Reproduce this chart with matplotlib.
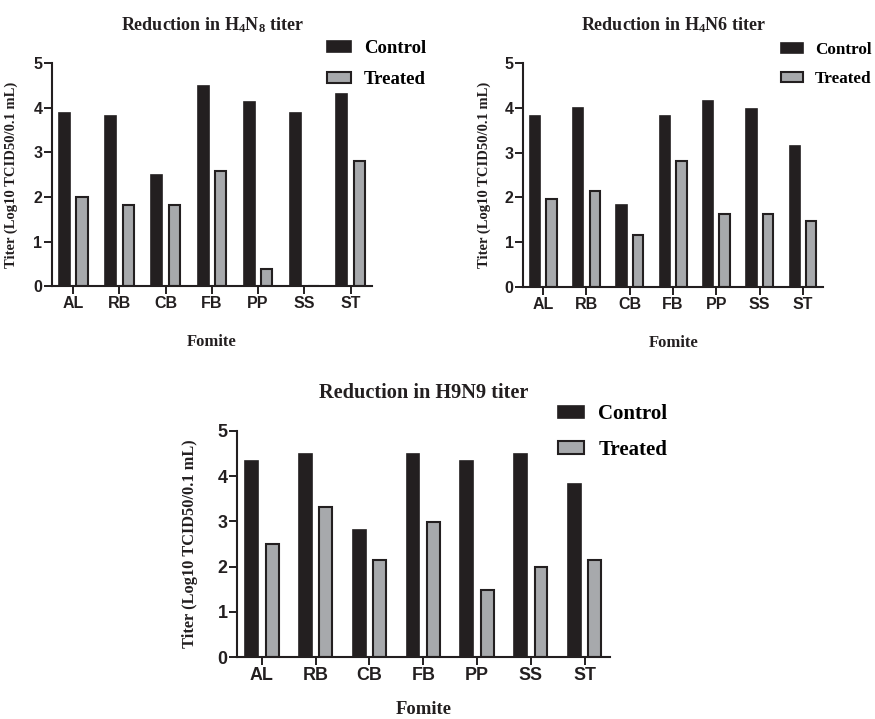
import numpy as np
import matplotlib
matplotlib.use('Agg')
from matplotlib import pyplot as plt

plt.rcParams['mathtext.fontset'] = 'custom'
plt.rcParams['mathtext.rm'] = 'Liberation Serif:bold'
plt.rcParams['mathtext.it'] = 'Liberation Serif:bold:italic'
plt.rcParams['mathtext.bf'] = 'Liberation Serif:bold'
plt.rcParams['mathtext.default'] = 'rm'

fomites = ['AL', 'RB', 'CB', 'FB', 'PP', 'SS', 'ST']

h4n8_control = [3.88, 3.82, 2.5, 4.5, 4.14, 3.88, 4.31]
h4n8_treated = [2.0, 1.81, 1.81, 2.59, 0.38, 0.0, 2.81]

h4n6_control = [3.81, 4.0, 1.82, 3.81, 4.15, 3.98, 3.14]
h4n6_treated = [1.97, 2.14, 1.15, 2.81, 1.64, 1.64, 1.48]

h9n9_control = [4.33, 4.49, 2.81, 4.49, 4.33, 4.49, 3.82]
h9n9_treated = [2.49, 3.32, 2.14, 2.98, 1.48, 1.99, 2.14]

control_color = '#231f20'
treated_color = '#a7a9ac'
serif = 'Liberation Serif'
sans = 'Liberation Sans'


def titer_panel(fig, rect, title, control, treated, scale=1.0, xlabel_y=-0.215,
                legend_size=13.5):
    ax = fig.add_axes(rect)
    x = np.arange(len(fomites))
    width = 0.24
    offset = 0.19
    ax.bar(x - offset, control, width=width, color=control_color,
           edgecolor=control_color, linewidth=1.2, label='Control')
    ax.bar(x + offset, treated, width=width, color=treated_color,
           edgecolor=control_color, linewidth=1.5, label='Treated')

    ax.set_xlim(-0.46, 6.47)
    ax.set_ylim(0, 5)
    ax.set_yticks(range(6))
    ax.set_xticks(x)
    ax.set_xticklabels(fomites)

    for side in ['top', 'right']:
        ax.spines[side].set_visible(False)
    for side in ['left', 'bottom']:
        ax.spines[side].set_linewidth(1.5)
        ax.spines[side].set_color(control_color)

    ax.tick_params(axis='both', direction='out', length=5.5, width=1.4,
                   color=control_color, pad=1.5)
    for lbl in ax.get_xticklabels() + ax.get_yticklabels():
        lbl.set_fontfamily(sans)
        lbl.set_fontweight('bold')
        lbl.set_fontsize(11.5 * scale)
        lbl.set_color(control_color)

    ax.set_ylabel('Titer (Log10 TCID50/0.1 mL)', fontfamily=serif,
                  fontweight='bold', fontsize=10.5 * scale, color=control_color)
    ax.yaxis.set_label_coords(-0.106, 0.5)
    ax.set_xlabel('Fomite', fontfamily=serif, fontweight='bold',
                  fontsize=12 * scale, color=control_color)
    ax.xaxis.set_label_coords(0.5, xlabel_y)

    ax.text(0.5, 1.17, title, transform=ax.transAxes, ha='center', va='center',
            fontfamily=serif, fontweight='bold', fontsize=13 * scale,
            color=control_color)

    ax.legend(loc='center left', bbox_to_anchor=(0.86, 0.995), frameon=False,
              prop={'family': serif, 'weight': 'bold', 'size': legend_size},
              handlelength=1.25, handleheight=0.55, handletextpad=0.7,
              labelspacing=0.75, borderpad=0, borderaxespad=0)
    return ax


fig = plt.figure(figsize=(8.75, 7.19), dpi=100)

titer_panel(fig, [0.0594, 0.602, 0.366, 0.310], 'Reduction in H$_4$N$_8$ titer',
            h4n8_control, h4n8_treated)
titer_panel(fig, [0.598, 0.601, 0.343, 0.311], 'Reduction in H$_4$N6 titer',
            h4n6_control, h4n6_treated, legend_size=12.3)
titer_panel(fig, [0.271, 0.0862, 0.426, 0.3144], 'Reduction in H9N9 titer',
            h9n9_control, h9n9_treated, scale=1.12, xlabel_y=-0.195,
            legend_size=15)

fig.savefig('out.png', dpi=100)
